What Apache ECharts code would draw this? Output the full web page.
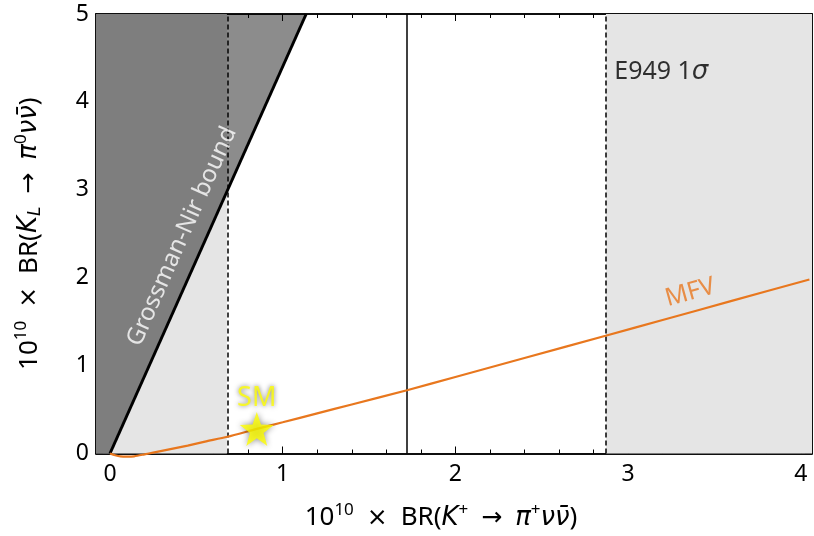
<!DOCTYPE html>
<html>
<head>
<meta charset="utf-8">
<script src="https://cdn.jsdelivr.net/npm/echarts@6/dist/echarts.min.js"></script>
<style>
  html, body { margin: 0; padding: 0; background: #fff; }
  #chart { width: 814px; height: 536px; }
</style>
</head>
<body>
<div id="chart"></div>
<script>
// Axis ranges
const xRange = [-0.081, 4.065];
const yRange = [0, 5];

// Tick positions
const xMajorTicks = [0, 1, 2, 3, 4];
const yMajorTicks = [0, 1, 2, 3, 4, 5];
const xMinorTicks = [];
for (let i = 0; i <= 20; i++) xMinorTicks.push(+(i * 0.2).toFixed(1));
const yMinorTicks = [];
for (let i = 0; i <= 25; i++) yMinorTicks.push(+(i * 0.2).toFixed(1));

// E949 1-sigma band: lower edge, central value, upper edge
const e949Band = [0.677, 1.72, 2.872];

// Grossman-Nir bound line
const gnBound = [[0, 0], [1.136, 5]];

// MFV prediction curve
const mfvX = [0, 0.03, 0.06, 0.1, 0.14, 0.2, 0.25, 0.35, 0.45, 0.55, 0.68, 0.85, 1.0, 1.2, 1.4, 1.72, 2.0, 2.4, 2.87, 3.2, 3.6, 4.05];
const mfvY = [0, -0.02, -0.033, -0.036, -0.032, -0.01, 0.01, 0.05, 0.09, 0.135, 0.19, 0.28, 0.355, 0.457, 0.558, 0.72, 0.871, 1.087, 1.34, 1.519, 1.736, 1.98];

// Standard Model point
const smPoint = [0.85, 0.28];

const FONT = 'Noto Sans';
const MATH = 'DejaVu Sans';
const chart = echarts.init(document.getElementById('chart'));

const mfvData = mfvX.map((x, i) => [x, mfvY[i]]);
const gnPolygon = [[xRange[0], 0], gnBound[0], gnBound[1], [xRange[0], 5]];

const starPath = (() => {
  const pts = [];
  for (let i = 0; i < 10; i++) {
    const r = i % 2 === 0 ? 50 : 20;
    const a = -Math.PI / 2 + i * Math.PI / 5;
    pts.push((50 + r * Math.cos(a)).toFixed(2) + ',' + (52 + r * Math.sin(a)).toFixed(2));
  }
  return 'path://M' + pts.join('L') + 'Z';
})();

function makeX(pos, ticks, len, labels) {
  return {
    type: 'value', position: pos, min: xRange[0], max: xRange[1],
    axisLine: { show: true, onZero: false, lineStyle: { color: '#000', width: 1.5 } },
    axisTick: { show: true, inside: true, length: len, customValues: ticks, lineStyle: { color: '#000', width: 1 } },
    axisLabel: labels ? { show: true, customValues: xMajorTicks, margin: 9, color: '#000', fontSize: 23, fontFamily: FONT } : { show: false },
    splitLine: { show: false }
  };
}
function makeY(pos, ticks, len, labels) {
  return {
    type: 'value', position: pos, min: yRange[0], max: yRange[1],
    axisLine: { show: true, onZero: false, lineStyle: { color: '#000', width: 1.5 } },
    axisTick: { show: true, inside: true, length: len, customValues: ticks, lineStyle: { color: '#000', width: 1 } },
    axisLabel: labels ? { show: true, customValues: yMajorTicks, margin: 7, color: '#000', fontSize: 23, fontFamily: FONT } : { show: false },
    splitLine: { show: false }
  };
}

const titleRich = {
  n: { fontSize: 26, fontFamily: FONT, color: '#000' },
  a: { fontSize: 25, fontFamily: MATH, color: '#000' },
  i: { fontSize: 26, fontFamily: MATH, fontStyle: 'italic', color: '#000' },
  s: { fontSize: 17, fontFamily: FONT, color: '#000', padding: [0, 0, 16, 0] },
  b: { fontSize: 17, fontFamily: MATH, fontStyle: 'italic', color: '#000', padding: [13, 0, 0, 0] }
};

const xAxes = [
  makeX('bottom', xMajorTicks, 7, true),
  makeX('bottom', xMinorTicks, 4, false),
  makeX('top', xMajorTicks, 7, false),
  makeX('top', xMinorTicks, 4, false)
];
xAxes[0].name = '{n|10}{s|10}{a|\u2009 × \u2009}{n|BR(}{i|K}{s|+}{a|\u2009 → \u2009}{i|π}{s|+}{i|νν̄}{n|)}';
xAxes[0].nameLocation = 'middle';
xAxes[0].nameGap = 48;
xAxes[0].nameTextStyle = { rich: titleRich, padding: [0, 26, 0, 0] };

const yAxes = [
  makeY('left', yMajorTicks, 7, true),
  makeY('left', yMinorTicks, 4, false),
  makeY('right', yMajorTicks, 7, false),
  makeY('right', yMinorTicks, 4, false)
];
yAxes[0].name = '{n|10}{s|10}{a|\u2009 × \u2009}{n|BR(}{i|K}{b|L}{a|\u2009 → \u2009}{i|π}{s|0}{i|νν̄}{n|)}';
yAxes[0].nameLocation = 'middle';
yAxes[0].nameRotate = 90;
yAxes[0].nameGap = 50;
yAxes[0].nameTextStyle = { rich: titleRich };

const option = {
  animation: false,
  backgroundColor: '#fff',
  grid: { left: 96, right: 2, top: 14, bottom: 79, containLabel: false },
  xAxis: xAxes,
  yAxis: yAxes,
  series: [
    // light band outside the E949 range
    {
      type: 'line', data: [], silent: true,
      markArea: {
        silent: true,
        itemStyle: { color: '#e5e5e5' },
        data: [
          [{ xAxis: xRange[0] }, { xAxis: e949Band[0] }],
          [{ xAxis: e949Band[2] }, { xAxis: xRange[1] }]
        ]
      },
      z: 1
    },
    // Grossman-Nir excluded region
    {
      type: 'custom', silent: true, z: 2,
      data: [0],
      renderItem: function (params, api) {
        return {
          type: 'polygon',
          shape: { points: gnPolygon.map(p => api.coord(p)) },
          style: { fill: 'rgba(0,0,0,0.45)' }
        };
      }
    },
    // E949 central value and 1-sigma limits
    {
      type: 'line', data: [], silent: true, z: 3,
      markLine: {
        silent: true, symbol: 'none', label: { show: false },
        data: [
          { xAxis: e949Band[0], lineStyle: { type: [5, 3], color: '#000', width: 1.5 } },
          { xAxis: e949Band[1], lineStyle: { type: 'solid', color: '#000', width: 1.5 } },
          { xAxis: e949Band[2], lineStyle: { type: [5, 3], color: '#000', width: 1.5 } }
        ]
      }
    },
    {
      type: 'line', data: gnBound, z: 4, symbol: 'none', silent: true,
      lineStyle: { color: '#000', width: 3 }
    },
    {
      type: 'line', data: mfvData, z: 5, symbol: 'none', smooth: 0.25, clip: false, silent: true,
      lineStyle: { color: '#e8771e', width: 2.2 }
    },
    {
      type: 'scatter', data: [smPoint], z: 6, symbol: starPath, symbolSize: 34, silent: true,
      itemStyle: { color: '#ffff00', shadowBlur: 6, shadowColor: 'rgba(0,0,0,0.55)' },
      label: {
        show: true, position: 'top', distance: 0, formatter: 'SM',
        color: '#ffff00', fontSize: 27, fontFamily: FONT,
        textShadowBlur: 5, textShadowColor: 'rgba(0,0,0,0.65)'
      }
    },
    // text annotations
    {
      type: 'scatter', symbolSize: 0, z: 7, silent: true,
      data: [
        { value: [0.417, 2.47], label: { formatter: 'Grossman-Nir bound', color: '#fff', rotate: 66, fontSize: 24 } },
        { value: [3.36, 1.83], label: { formatter: 'MFV', color: '#e8771e', rotate: 15.5, fontSize: 25 } },
        { value: [2.92, 4.34], label: { formatter: '{n|E949 1}{i|σ}', align: 'left', color: '#000',
            rich: { n: { fontSize: 25, fontFamily: FONT, color: '#000' }, i: { fontSize: 26, fontFamily: MATH, fontStyle: 'italic', color: '#000' } } } }
      ],
      label: { show: true, position: 'inside', fontFamily: FONT }
    }
  ]
};
chart.setOption(option);
</script>
</body>
</html>
